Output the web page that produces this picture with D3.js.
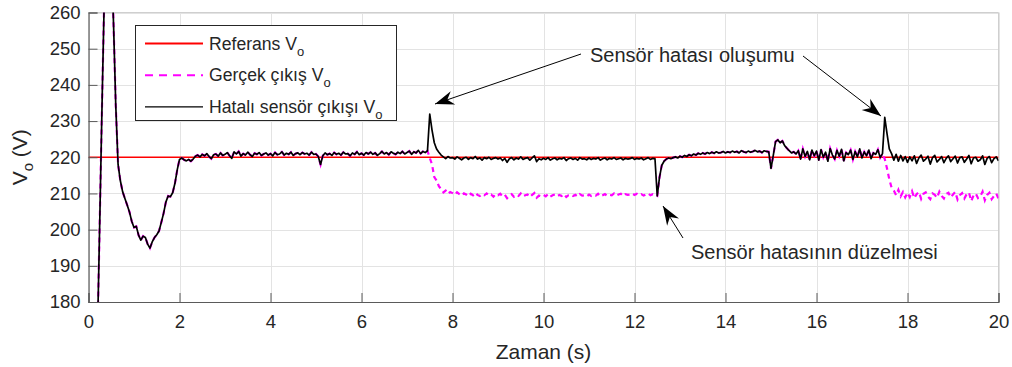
<!DOCTYPE html>
<html>
<head>
<meta charset="utf-8">
<script src="https://cdn.jsdelivr.net/npm/d3@7"></script>
<style>
  html, body { margin: 0; padding: 0; background: #fff; }
  svg { display: block; }
  text { font-family: Arial, "Liberation Sans", sans-serif; fill: #262626; }
</style>
</head>
<body>
<svg id="chart" width="1012" height="367"></svg>
<script>
// Sampling interval of the recorded signals (s)
const sampleStep = 0.05;

// Reference output voltage (V)
const referenceVoltage = 220;

// Faulty sensor reading of the output voltage, one value per sample from 0 s to 20 s
const sensorOutput = [
  0, 20, 60, 118, 173, 204, 236, 266, 284, 289, 277, 257, 234, 218, 213.5, 210.5, 208.6, 206.8, 204.9, 202.3,
  200.6, 200.9, 198.5, 197.1, 198.2, 197.8, 196.0, 194.9, 196.6, 197.8, 198.6, 199.6, 202.0, 204.5, 207.6, 209.3, 209.1, 210.2, 212.8, 216.5,
  219.4, 219.8, 219.3, 219.0, 219.4, 218.9, 219.5, 220.3, 220.6, 220.1, 220.8, 220.4, 221.0, 220.2, 219.6, 220.7, 220.9, 220.3, 221.2, 220.5,
  220.8, 221.3, 220.4, 219.7, 221.5, 220.9, 221.6, 220.3, 221.0, 220.6, 221.4, 220.7, 220.2, 221.1, 220.8, 221.3, 220.5, 220.9, 221.2, 220.6,
  221.0, 220.4, 221.3, 220.7, 220.9, 221.5, 220.6, 221.1, 220.8, 221.4, 220.5, 221.0, 221.2, 220.7, 221.3, 220.9, 221.1, 220.6, 221.4, 220.8,
  220.9, 220.2, 218.0, 220.4, 221.2, 220.7, 221.0, 220.5, 221.3, 220.8, 221.1, 220.6, 221.4, 220.9, 221.0, 220.4, 221.2, 220.8, 221.5, 220.7,
  221.1, 220.6, 221.3, 220.9, 221.4, 220.8, 221.2, 220.5, 221.0, 221.6, 220.9, 221.3, 220.7, 221.5, 221.1, 220.8, 221.4, 221.0, 221.6, 220.9,
  221.3, 221.7, 220.8, 221.5, 221.2, 221.9, 221.0, 221.6, 221.3, 221.8, 231.9, 227.5, 224.0, 222.3, 221.4, 220.6, 220.1, 219.6, 220.2, 219.8,
  219.9, 219.5, 220.1, 219.7, 219.3, 219.8, 220.0, 219.4, 219.9, 219.6, 220.2, 219.5, 219.8, 219.2, 219.9, 219.6, 220.0, 219.4, 219.7, 219.9,
  219.5, 219.8, 219.1, 219.7, 218.6, 219.6, 219.9, 219.3, 219.8, 219.5, 220.1, 219.4, 219.7, 219.9, 219.2, 219.8, 220.4, 218.8, 219.6, 219.3,
  219.7, 219.4, 219.9, 219.2, 219.6, 219.8, 219.3, 219.7, 219.5, 219.9, 219.1, 219.6, 219.8, 219.4, 219.7, 219.2, 219.9, 219.5, 219.6, 219.3,
  219.8, 219.4, 219.7, 219.5, 219.9, 219.2, 219.6, 219.8, 219.3, 219.7, 219.5, 219.9, 219.4, 219.6, 219.8, 219.3, 219.7, 219.5, 219.6, 219.9,
  219.4, 219.7, 219.5, 219.8, 219.3, 219.6, 219.9, 219.4, 219.7, 219.6, 209.3, 214.5, 217.8, 218.9, 219.5, 219.8, 219.6, 219.9, 220.1, 219.8,
  220.3, 220.0, 220.5, 220.2, 220.7, 220.4, 220.9, 220.6, 221.1, 220.8, 221.2, 220.9, 221.3, 221.0, 221.4, 221.1, 221.5, 221.2, 221.3, 221.6,
  221.2, 221.5, 221.3, 221.7, 221.4, 221.6, 221.2, 221.8, 221.5, 221.3, 221.7, 221.4, 221.6, 221.9, 221.5, 221.7, 221.3, 221.8, 221.6, 221.5,
  216.9, 220.5, 224.3, 224.8, 224.0, 224.5, 223.2, 222.5, 221.8, 221.2, 221.5, 220.9, 221.8, 219.5, 222.3, 220.2, 221.6, 219.3, 222.0, 220.4,
  221.7, 219.2, 222.1, 220.0, 221.4, 218.9, 222.4, 220.6, 219.5, 221.9, 220.3, 222.2, 219.0, 221.3, 220.7, 222.0, 219.4, 221.6, 220.1, 222.3,
  219.8, 221.5, 220.4, 222.0, 219.6, 221.2, 220.8, 222.1, 219.9, 221.0, 231.0, 226.5, 222.3, 221.0, 219.2, 220.8, 218.9, 220.5, 219.0, 220.2,
  218.6, 220.1, 219.0, 220.4, 218.3, 219.8, 220.6, 218.9, 219.5, 220.3, 218.1, 219.9, 220.5, 218.7, 219.4, 220.2, 218.5, 219.7, 220.4, 218.8,
  219.6, 220.3, 218.4, 219.9, 220.1, 218.6, 219.5, 220.5, 218.2, 219.8, 220.0, 218.9, 219.3, 220.4, 218.0, 219.7, 220.2, 218.5, 219.6, 220.1, 219.0
];

// Actual output voltage while the sensor is faulty: 7.5 s – 12.5 s
const fault1Start = 7.5;
const actualFault1 = [
  219.8, 218.0, 214.5, 213.6, 212.0, 211.2, 210.3, 210.8, 209.9, 210.4,
  210.1, 209.6, 210.3, 209.8, 209.4, 210.0, 209.7, 209.2, 209.9, 209.5, 210.2, 209.6, 209.3, 209.8, 209.5, 210.0, 209.4, 209.7, 209.1, 209.8,
  209.5, 209.9, 209.2, 209.6, 208.7, 209.4, 209.8, 209.1, 209.6, 209.3, 210.0, 209.2, 209.5, 209.7, 209.0, 209.6, 210.1, 208.8, 209.4, 209.2,
  209.6, 209.2, 209.8, 209.1, 209.5, 209.7, 209.2, 209.6, 209.3, 209.8, 209.0, 209.5, 209.7, 209.3, 209.6, 209.1, 209.8, 209.4, 209.5, 209.2,
  209.7, 209.3, 209.6, 209.4, 209.9, 209.2, 209.5, 209.8, 209.3, 209.6, 209.5, 210.0, 209.4, 209.7, 209.9, 209.3, 209.8, 209.6, 209.7, 210.0,
  209.6, 209.9, 209.5, 209.8, 209.4, 209.7, 210.0, 209.5, 209.8, 209.6,
  209.3
];

// Actual output voltage while the sensor is faulty: 17.5 s – 20 s
const fault2Start = 17.5;
const actualFault2 = [
  219.5, 216.9, 213.9, 211.6, 210.8, 209.5, 211.0, 209.2, 210.4, 208.9,
  210.2, 209.0, 210.6, 208.7, 209.8, 210.4, 208.5, 209.9, 210.3, 209.1, 208.4, 210.0, 209.6, 208.8, 210.5, 209.3, 208.6, 209.9, 210.2, 208.9,
  209.7, 210.4, 208.3, 209.5, 210.1, 208.6, 209.8, 210.3, 207.9, 209.4, 210.0, 208.7, 209.2, 210.5, 208.1, 209.6, 210.2, 208.4, 209.3, 210.0, 208.6
];

// Axis settings
const xDomain = [0, 20];
const yDomain = [180, 260];
const xTicks = [0, 2, 4, 6, 8, 10, 12, 14, 16, 18, 20];
const yTicks = [180, 190, 200, 210, 220, 230, 240, 250, 260];

// Series as [time, value] pairs
const sensorSeries = sensorOutput.map((v, i) => [i * sampleStep, v]);
const i1 = Math.round(fault1Start / sampleStep);
const i2 = Math.round(fault2Start / sampleStep);
const actualValues = sensorOutput.slice(0, i1)
  .concat(actualFault1)
  .concat(sensorOutput.slice(i1 + actualFault1.length, i2))
  .concat(actualFault2);
const actualSeries = actualValues.map((v, i) => [i * sampleStep, v]);
const referenceSeries = [[xDomain[0], referenceVoltage], [xDomain[1], referenceVoltage]];

const svg = d3.select("#chart");
const plot = { left: 88.5, right: 998.5, top: 12.5, bottom: 302 };

const x = d3.scaleLinear().domain(xDomain).range([plot.left, plot.right]);
const y = d3.scaleLinear().domain(yDomain).range([plot.bottom, plot.top]);

// Grid
const grid = svg.append("g").attr("stroke", "#e3e3e3").attr("stroke-width", 1);
grid.selectAll("line.gx").data(xTicks).join("line")
  .attr("x1", d => Math.round(x(d)) + 0.5).attr("x2", d => Math.round(x(d)) + 0.5)
  .attr("y1", plot.top).attr("y2", plot.bottom);
grid.selectAll("line.gy").data(yTicks).join("line")
  .attr("y1", d => Math.round(y(d)) + 0.5).attr("y2", d => Math.round(y(d)) + 0.5)
  .attr("x1", plot.left).attr("x2", plot.right);

// Box top and right edges
svg.append("path")
  .attr("d", `M${plot.left},${plot.top}H${plot.right}V${plot.bottom}`)
  .attr("fill", "none").attr("stroke", "#cfcfcf").attr("stroke-width", 1);

// Data lines, clipped to the axes
svg.append("clipPath").attr("id", "clip").append("rect")
  .attr("x", plot.left).attr("y", plot.top)
  .attr("width", plot.right - plot.left).attr("height", plot.bottom - plot.top);
const lines = svg.append("g").attr("clip-path", "url(#clip)");
const line = d3.line().x(d => x(d[0])).y(d => y(d[1]));

lines.append("path").datum(referenceSeries).attr("d", line)
  .attr("fill", "none").attr("stroke", "#ff0000").attr("stroke-width", 1.6);
lines.append("path").datum(actualSeries).attr("d", line)
  .attr("fill", "none").attr("stroke", "#ff00ff").attr("stroke-width", 2.2)
  .attr("stroke-dasharray", "5,4");
lines.append("path").datum(sensorSeries).attr("d", line)
  .attr("fill", "none").attr("stroke", "#000").attr("stroke-width", 1.7)
  .attr("stroke-linejoin", "round");

// Axes
const xAxis = d3.axisBottom(x).tickValues(xTicks).tickSize(-9).tickPadding(13).tickFormat(d3.format("d"));
const yAxis = d3.axisLeft(y).tickValues(yTicks).tickSize(-9).tickPadding(8).tickFormat(d3.format("d"));

const gx = svg.append("g").attr("transform", `translate(0,${plot.bottom})`).call(xAxis);
const gy = svg.append("g").attr("transform", `translate(${plot.left},0)`).call(yAxis);
[gx, gy].forEach(g => {
  g.select(".domain").attr("stroke", "#5a5a5a").attr("stroke-width", 1.2);
  g.selectAll(".tick line").attr("stroke", "#5a5a5a");
  g.selectAll(".tick text").attr("font-size", 18.5).attr("fill", "#262626")
    .attr("font-family", "Arial, 'Liberation Sans', sans-serif");
});
gx.selectAll(".tick text").attr("dy", "0.71em");

// Axis titles
svg.append("text").attr("x", x(10)).attr("y", 359)
  .attr("text-anchor", "middle").attr("font-size", 21).text("Zaman (s)");

const yl = svg.append("text")
  .attr("transform", `translate(27,${(plot.top + plot.bottom) / 2}) rotate(-90)`)
  .attr("text-anchor", "middle").attr("font-size", 21);
yl.append("tspan").text("V");
yl.append("tspan").attr("font-size", 15).attr("dy", 6).text("o");
yl.append("tspan").attr("dy", -6).text(" (V)");

// Legend
const legend = svg.append("g");
legend.append("rect").attr("x", 135.5).attr("y", 25.5).attr("width", 261).attr("height", 95)
  .attr("fill", "#fff").attr("stroke", "#262626").attr("stroke-width", 1);
const legendItems = [
  { label: "Referans V", color: "#ff0000", dash: null, width: 1.8 },
  { label: "Gerçek çıkış V", color: "#ff00ff", dash: "8,6", width: 2 },
  { label: "Hatalı sensör çıkışı V", color: "#000", dash: null, width: 1.4 }
];
legendItems.forEach((d, i) => {
  const ly = 43.5 + i * 31.7;
  legend.append("line").attr("x1", 145).attr("x2", 203).attr("y1", ly).attr("y2", ly)
    .attr("stroke", d.color).attr("stroke-width", d.width)
    .attr("stroke-dasharray", d.dash);
  const t = legend.append("text").attr("x", 209).attr("y", ly + 6).attr("font-size", 17.6)
    .attr("fill", "#000");
  t.append("tspan").text(d.label);
  t.append("tspan").attr("font-size", 13).attr("dy", 6).text("o");
});

// Annotations
const defs = svg.append("defs");
defs.append("marker").attr("id", "head")
  .attr("viewBox", "-20 -8 22 16").attr("refX", 0).attr("refY", 0)
  .attr("markerUnits", "userSpaceOnUse").attr("markerWidth", 22).attr("markerHeight", 16)
  .attr("orient", "auto")
  .append("path").attr("d", "M0,0L-19,-7L-13,0L-19,7Z").attr("fill", "#000");

const arrows = [
  { from: [581, 54], to: [435, 104] },
  { from: [803, 56], to: [881, 116] },
  { from: [683, 238], to: [663, 206] }
];
svg.append("g").selectAll("line").data(arrows).join("line")
  .attr("x1", d => d.from[0]).attr("y1", d => d.from[1])
  .attr("x2", d => d.to[0]).attr("y2", d => d.to[1])
  .attr("stroke", "#000").attr("stroke-width", 1)
  .attr("marker-end", "url(#head)");

svg.append("text").attr("x", 590).attr("y", 62).attr("font-size", 20).attr("fill", "#000")
  .text("Sensör hatası oluşumu");
svg.append("text").attr("x", 691).attr("y", 259).attr("font-size", 20).attr("fill", "#000")
  .text("Sensör hatasının düzelmesi");
</script>
</body>
</html>
